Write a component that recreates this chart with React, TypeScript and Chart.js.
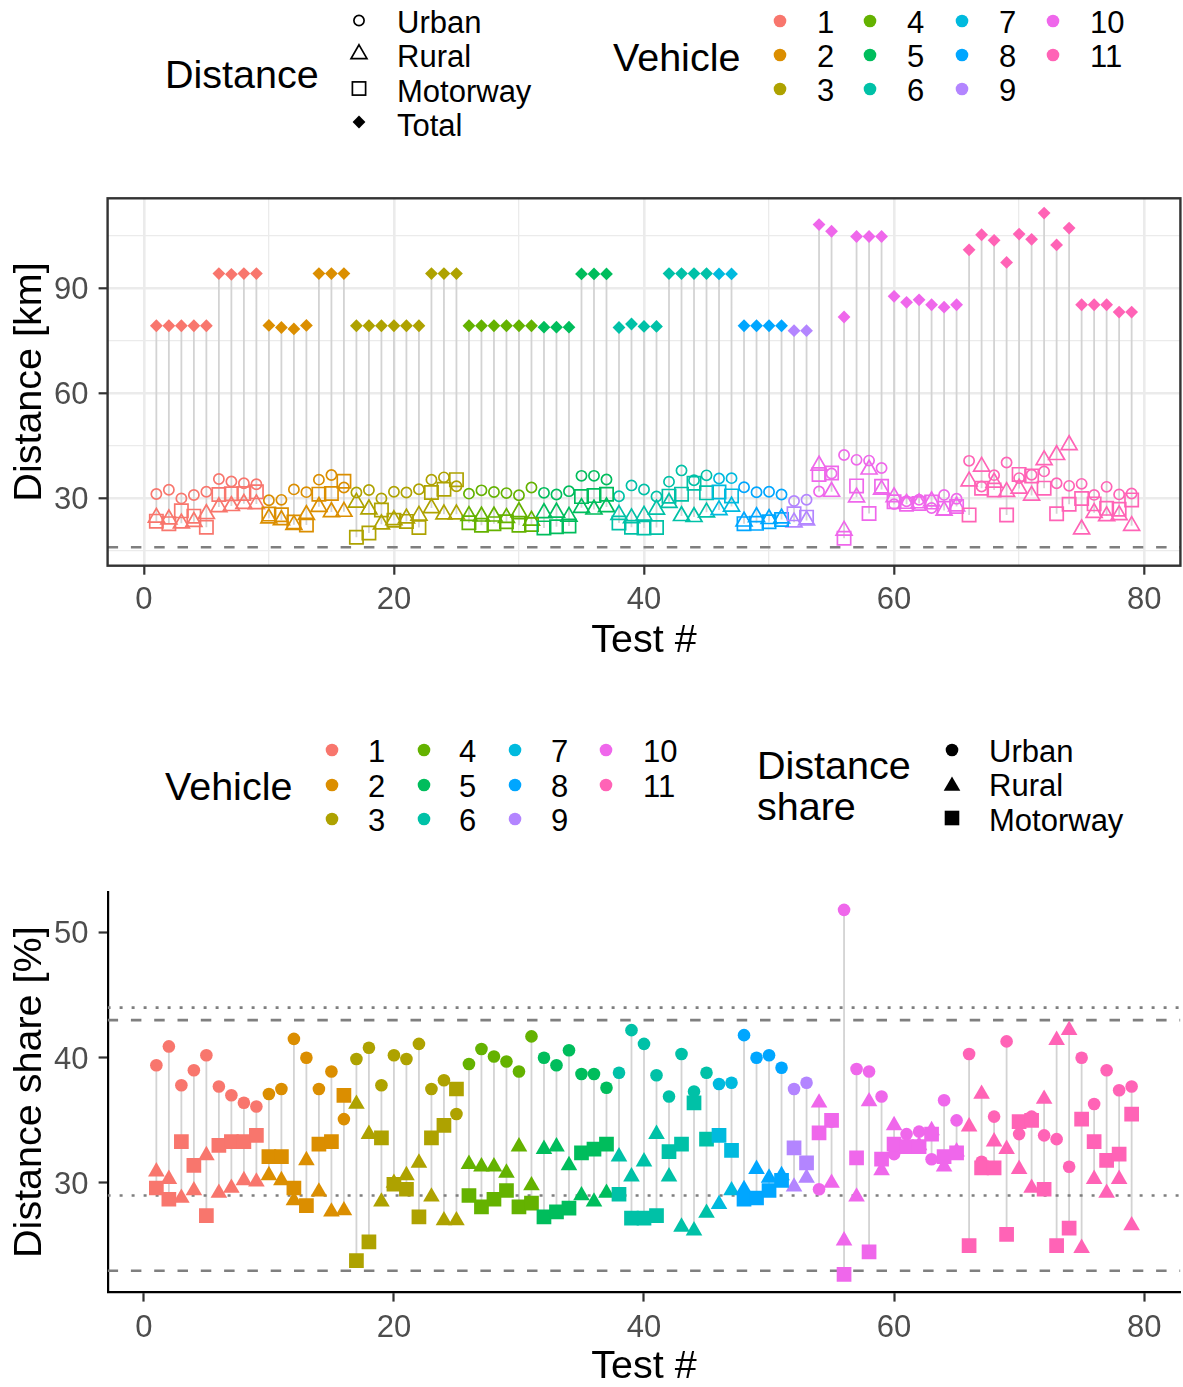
import React, { useEffect, useRef } from "react";
import { Chart, registerables } from "chart.js";

Chart.register(...registerables);

const FONT = '"Liberation Sans", Arial, Helvetica, sans-serif';

// ---------------- data ----------------
const testNumbers = [
  1, 2, 3, 4, 5, 6, 7, 8, 9, 10, 11, 12, 13, 14, 15, 16, 17, 18, 19, 20,
  21, 22, 23, 24, 25, 26, 27, 28, 29, 30, 31, 32, 33, 34, 35, 36, 37, 38, 39, 40,
  41, 42, 43, 44, 45, 46, 47, 48, 49, 50, 51, 52, 53, 54, 55, 56, 57, 58, 59, 60,
  61, 62, 63, 64, 65, 66, 67, 68, 69, 70, 71, 72, 73, 74, 75, 76, 77, 78, 79,
];

const vehicleOfTest = [
  1, 1, 1, 1, 1, 1, 1, 1, 1,
  2, 2, 2, 2, 2, 2, 2,
  3, 3, 3, 3, 3, 3, 3, 3, 3,
  4, 4, 4, 4, 4, 4,
  5, 5, 5, 5, 5, 5,
  6, 6, 6, 6, 6, 6, 6, 6,
  7, 7,
  8, 8, 8, 8,
  9, 9,
  10, 10, 10, 10, 10, 10, 10, 10, 10, 10, 10, 10,
  11, 11, 11, 11, 11, 11, 11, 11, 11, 11, 11, 11, 11, 11,
];

// total trip distance [km]
const totalKm = [
  79.3, 79.3, 79.3, 79.3, 79.3, 94.2, 94.0, 94.2, 94.2,
  79.4, 78.8, 78.4, 79.4, 94.2, 94.2, 94.2,
  79.3, 79.3, 79.3, 79.3, 79.3, 79.3, 94.2, 94.2, 94.2,
  79.3, 79.3, 79.3, 79.3, 79.3, 79.3,
  78.9, 78.9, 78.9, 94.1, 94.1, 94.1,
  78.8, 79.8, 79.1, 79.1, 94.2, 94.2, 94.2, 94.2,
  94.1, 94.1,
  79.3, 79.3, 79.3, 79.3,
  77.9, 77.9,
  108.2, 106.3, 81.8, 104.8, 104.8, 104.8, 87.7, 86.0, 86.7, 85.3, 84.6, 85.3,
  101.0, 105.3, 103.7, 97.4, 105.5, 104.0, 111.5, 102.4, 107.2, 85.3, 85.3, 85.3, 83.2, 83.2,
];

// distance shares [%]
const urbanShare = [
  39.4, 40.9, 37.8, 39.0, 40.2, 37.7, 37.0, 36.4, 36.1,
  37.1, 37.5, 41.5, 40.0, 37.5, 38.9, 35.1,
  39.9, 40.8, 37.8, 40.2, 39.9, 41.1, 37.5, 38.2, 35.5,
  39.5, 40.7, 40.1, 39.7, 38.9, 41.7,
  40.0, 39.4, 40.6, 38.7, 38.7, 37.6,
  38.8, 42.2, 41.1, 38.6, 36.9, 40.3, 37.3, 38.8,
  37.9, 38.0,
  41.8, 40.0, 40.2, 39.2,
  37.5, 38.0,
  29.5, 34.9, 51.8, 39.1, 38.9, 36.9, 32.3, 33.9, 34.1, 31.9, 36.6, 35.0,
  40.3, 31.7, 35.3, 41.3, 33.9, 35.3, 33.8, 33.5, 31.3, 40.0, 36.3, 39.0, 37.4, 37.7,
];

const ruralShare = [
  30.9, 30.3, 28.8, 29.4, 32.2, 29.2, 29.6, 30.2, 30.1,
  30.6, 30.2, 28.6, 31.8, 29.3, 27.7, 27.8,
  36.3, 33.9, 28.5, 30.0, 30.6, 31.6, 28.9, 27.0, 27.0,
  31.5, 31.3, 31.3, 30.8, 32.9, 29.8,
  32.7, 32.9, 31.4, 29.0, 28.5, 29.2,
  32.1, 30.5, 31.7, 33.9, 30.5, 26.5, 26.2, 27.6,
  28.3, 29.4,
  29.5, 31.1, 30.4, 30.6,
  29.7, 30.4,
  36.4, 30.0, 25.4, 28.9, 36.5, 31.0, 34.6, 33.1, 33.0, 34.2, 31.3, 32.5,
  34.5, 37.1, 33.3, 32.7, 31.1, 29.6, 36.7, 41.4, 42.2, 24.8, 30.3, 29.2, 30.3, 26.6,
];

const motorwayShare = [
  29.6, 28.7, 33.3, 31.4, 27.4, 33.0, 33.3, 33.3, 33.8,
  32.1, 32.1, 29.6, 28.2, 33.1, 33.3, 37.0,
  23.8, 25.3, 33.6, 29.9, 29.5, 27.3, 33.6, 34.6, 37.5,
  29.0, 28.1, 28.7, 29.4, 28.1, 28.4,
  27.3, 27.7, 28.0, 32.4, 32.7, 33.1,
  29.1, 27.2, 27.2, 27.4, 32.5, 33.1, 36.4, 33.5,
  33.8, 32.6,
  28.7, 28.8, 29.4, 30.2,
  32.8, 31.6,
  34.0, 35.0, 22.7, 32.0, 24.5, 31.9, 33.1, 32.9, 32.9, 33.9, 32.1, 32.4,
  25.0, 31.2, 31.2, 25.9, 34.9, 35.0, 29.5, 25.0, 26.4, 35.1, 33.3, 31.8, 32.3, 35.5,
];

const vehicleLabels = ["1", "2", "3", "4", "5", "6", "7", "8", "9", "10", "11"];
const vehicleColors = [
  "#F8766D", "#DB8E00", "#AEA200", "#64B200", "#00BD5C", "#00C1A7",
  "#00BADE", "#00A6FF", "#B385FF", "#EF67EB", "#FF63B6",
];
const distanceLabels = ["Urban", "Rural", "Motorway", "Total"];
const shareLabels = ["Urban", "Rural", "Motorway"];

const xGridValues = [0, 10, 20, 30, 40, 50, 60, 70, 80];
const xLabelValues = [0, 20, 40, 60, 80];
const kmGridValues = [15, 30, 45, 60, 75, 90, 105];
const kmLabelValues = [30, 60, 90];
const shareTickValues = [30, 40, 50];

const rdeMinKm = 16;
const urbanShareLimits = [29, 44];
const otherShareLimits = [23, 43];

// ---------------- derived ----------------
const X_MIN = -2.9;
const X_MAX = 82.9;
const pointColors = vehicleOfTest.map((v) => vehicleColors[v - 1]);
const toKm = (share: number[]) => totalKm.map((t, i) => (t * share[i]) / 100);
const urbanKm = toKm(urbanShare);
const ruralKm = toKm(ruralShare);
const motorwayKm = toKm(motorwayShare);

const pts = (ys: number[]) => testNumbers.map((x, i) => ({ x, y: ys[i] }));

function segments(lows: number[], highs: number[]) {
  const out: any[] = [];
  testNumbers.forEach((x, i) => {
    out.push({ x, y: lows[i] }, { x, y: highs[i] }, { x, y: null });
  });
  return out;
}

const tickFont = { family: FONT, size: 31, lineHeight: 1 };
const titleFont = { family: FONT, size: 39.5, lineHeight: 1 };

function hline(y: number, dash: number[], order: number) {
  return {
    type: "scatter",
    data: [
      { x: X_MIN, y },
      { x: X_MAX, y },
    ],
    showLine: true,
    borderColor: "#7F7F7F",
    borderWidth: 2.6,
    borderDash: dash,
    borderCapStyle: "butt",
    pointRadius: 0,
    order,
  };
}

const DASHED = [10.5, 12.8];
const DOTTED = [3, 9];

const panelBorder = {
  id: "panelBorder",
  afterDraw(chart: any) {
    const { ctx, chartArea: a } = chart;
    ctx.save();
    ctx.strokeStyle = "#333333";
    ctx.lineWidth = 2.4;
    ctx.strokeRect(a.left, a.top, a.right - a.left, a.bottom - a.top);
    ctx.restore();
  },
};

function noPad(s: any) {
  s.paddingTop = 0;
  s.paddingBottom = 0;
  s.paddingLeft = 0;
  s.paddingRight = 0;
}

function buildTopConfig(): any {
  const lows = testNumbers.map((_, i) => Math.min(urbanKm[i], ruralKm[i], motorwayKm[i], totalKm[i]));
  const highs = testNumbers.map((_, i) => Math.max(urbanKm[i], ruralKm[i], motorwayKm[i], totalKm[i]));
  const open = (label: string, style: string, r: number, ys: number[], order: number) => ({
    type: "scatter",
    label,
    data: pts(ys),
    pointStyle: style,
    pointRadius: r,
    pointBackgroundColor: "rgba(0,0,0,0)",
    pointBorderColor: pointColors,
    pointBorderWidth: 1.7,
    order,
  });
  return {
    type: "scatter",
    data: {
      datasets: [
        {
          type: "scatter",
          label: "Total",
          data: pts(totalKm),
          pointStyle: "rectRot",
          pointRadius: 6.4,
          pointBackgroundColor: pointColors,
          pointBorderWidth: 0,
          order: 0,
        },
        open("Motorway", "rect", 9.4, motorwayKm, 1),
        open("Rural", "triangle", 9.2, ruralKm, 2),
        open("Urban", "circle", 5.1, urbanKm, 3),
        hline(rdeMinKm, DASHED, 4),
        {
          type: "scatter",
          data: segments(lows, highs),
          showLine: true,
          spanGaps: false,
          borderColor: "#D3D3D3",
          borderWidth: 1.8,
          pointRadius: 0,
          order: 5,
        },
      ],
    },
    options: {
      responsive: false,
      maintainAspectRatio: false,
      animation: false,
      devicePixelRatio: 1,
      events: [],
      layout: { autoPadding: false, padding: { top: 8.3, right: 2.6, left: 0, bottom: 0 } },
      plugins: { legend: { display: false }, tooltip: { enabled: false } },
      scales: {
        x: {
          type: "linear",
          position: "bottom",
          min: X_MIN,
          max: X_MAX,
          afterBuildTicks: (s: any) => {
            s.ticks = xGridValues.map((v) => ({ value: v }));
          },
          afterFit: (s: any) => {
            s.height = 104.3;
            noPad(s);
          },
          border: { display: false },
          grid: {
            display: true,
            drawOnChartArea: true,
            drawTicks: true,
            tickLength: 9,
            color: "#EBEBEB",
            lineWidth: (c: any) => (xLabelValues.includes(c.tick?.value) ? 2.6 : 1.3),
            tickColor: "#333333",
            tickWidth: (c: any) => (xLabelValues.includes(c.tick?.value) ? 2.2 : 0),
          },
          ticks: {
            autoSkip: false,
            maxRotation: 0,
            minRotation: 0,
            padding: 10,
            color: "#4D4D4D",
            font: tickFont,
            callback: (v: any) => (xLabelValues.includes(Number(v)) ? String(v) : ""),
          },
          title: {
            display: true,
            text: "Test #",
            color: "#000000",
            font: titleFont,
            padding: { top: 0, bottom: 9.6 },
          },
        },
        y: {
          type: "linear",
          position: "left",
          min: 10.74,
          max: 115.71,
          afterBuildTicks: (s: any) => {
            s.ticks = kmGridValues.map((v) => ({ value: v }));
          },
          afterFit: (s: any) => {
            s.width = 107.6;
            noPad(s);
          },
          border: { display: false },
          grid: {
            display: true,
            drawOnChartArea: true,
            drawTicks: true,
            tickLength: 9,
            color: "#EBEBEB",
            lineWidth: (c: any) => (kmLabelValues.includes(c.tick?.value) ? 2.6 : 1.3),
            tickColor: "#333333",
            tickWidth: (c: any) => (kmLabelValues.includes(c.tick?.value) ? 2.2 : 0),
          },
          ticks: {
            autoSkip: false,
            padding: 10,
            labelOffset: 2.5,
            color: "#4D4D4D",
            font: tickFont,
            callback: (v: any) => (kmLabelValues.includes(Number(v)) ? String(v) : ""),
          },
          title: {
            display: true,
            text: "Distance [km]",
            color: "#000000",
            font: titleFont,
            padding: { top: 9.9, bottom: 0 },
          },
        },
      },
    },
    plugins: [panelBorder],
  };
}

function buildBottomConfig(): any {
  const lows = testNumbers.map((_, i) => Math.min(urbanShare[i], ruralShare[i], motorwayShare[i]));
  const highs = testNumbers.map((_, i) => Math.max(urbanShare[i], ruralShare[i], motorwayShare[i]));
  const filled = (label: string, style: string, r: number, ys: number[], order: number) => ({
    type: "scatter",
    label,
    data: pts(ys),
    pointStyle: style,
    pointRadius: r,
    pointBackgroundColor: pointColors,
    pointBorderColor: pointColors,
    pointBorderWidth: 0,
    order,
  });
  return {
    type: "scatter",
    data: {
      datasets: [
        filled("Motorway", "rect", 10.4, motorwayShare, 1),
        filled("Rural", "triangle", 9.6, ruralShare, 2),
        filled("Urban", "circle", 6.3, urbanShare, 3),
        hline(urbanShareLimits[0], DOTTED, 4),
        hline(urbanShareLimits[1], DOTTED, 4),
        hline(otherShareLimits[0], DASHED, 4),
        hline(otherShareLimits[1], DASHED, 4),
        {
          type: "scatter",
          data: segments(lows, highs),
          showLine: true,
          spanGaps: false,
          borderColor: "#D3D3D3",
          borderWidth: 1.8,
          pointRadius: 0,
          order: 5,
        },
      ],
    },
    options: {
      responsive: false,
      maintainAspectRatio: false,
      animation: false,
      devicePixelRatio: 1,
      events: [],
      layout: { autoPadding: false, padding: { top: 11.7, right: 2.6, left: 0, bottom: 0 } },
      plugins: { legend: { display: false }, tooltip: { enabled: false } },
      scales: {
        x: {
          type: "linear",
          position: "bottom",
          min: X_MIN,
          max: X_MAX,
          afterBuildTicks: (s: any) => {
            s.ticks = xLabelValues.map((v) => ({ value: v }));
          },
          afterFit: (s: any) => {
            s.height = 94.4;
            noPad(s);
          },
          border: { display: true, color: "#000000", width: 2.2 },
          grid: {
            display: true,
            drawOnChartArea: false,
            drawTicks: true,
            tickLength: 9,
            tickColor: "#333333",
            tickWidth: 2.2,
          },
          ticks: {
            autoSkip: false,
            maxRotation: 0,
            minRotation: 0,
            padding: 11.5,
            color: "#4D4D4D",
            font: tickFont,
          },
          title: {
            display: true,
            text: "Test #",
            color: "#000000",
            font: titleFont,
            padding: { top: 0, bottom: 0 },
          },
        },
        y: {
          type: "linear",
          position: "left",
          min: 21.25,
          max: 53.25,
          afterBuildTicks: (s: any) => {
            s.ticks = shareTickValues.map((v) => ({ value: v }));
          },
          afterFit: (s: any) => {
            s.width = 107.6;
            noPad(s);
          },
          border: { display: true, color: "#000000", width: 2.2 },
          grid: {
            display: true,
            drawOnChartArea: false,
            drawTicks: true,
            tickLength: 9,
            tickColor: "#333333",
            tickWidth: 2.2,
          },
          ticks: {
            autoSkip: false,
            padding: 10,
            labelOffset: 2.5,
            color: "#4D4D4D",
            font: tickFont,
          },
          title: {
            display: true,
            text: "Distance share [%]",
            color: "#000000",
            font: titleFont,
            padding: { top: 9.9, bottom: 0 },
          },
        },
      },
    },
  };
}

// ---------------- legend helpers ----------------
function Txt(props: { x: number; cy: number; size: number; children: React.ReactNode }) {
  const { x, cy, size, children } = props;
  return (
    <div
      style={{
        position: "absolute",
        left: x,
        top: cy - 0.49 * size,
        fontFamily: FONT,
        fontSize: size,
        lineHeight: `${size}px`,
        whiteSpace: "nowrap",
        color: "#000",
      }}
    >
      {children}
    </div>
  );
}

function tri(cx: number, cy: number, r: number) {
  const h = r * 0.8660254;
  return `${cx},${cy - r} ${cx + h},${cy + r / 2} ${cx - h},${cy + r / 2}`;
}

function VehicleLegend(props: { titleX: number; titleCy: number; labelX: number[]; rows: number[] }) {
  const { titleX, titleCy, labelX, rows } = props;
  return (
    <>
      <Txt x={titleX} cy={titleCy} size={39.5}>Vehicle</Txt>
      {vehicleLabels.map((lab, k) => (
        <Txt key={"l" + k} x={labelX[Math.floor(k / 3)]} cy={rows[k % 3] + 1} size={31}>
          {lab}
        </Txt>
      ))}
    </>
  );
}

export default function App() {
  const topRef = useRef<HTMLCanvasElement>(null);
  const botRef = useRef<HTMLCanvasElement>(null);

  useEffect(() => {
    const c1 = new Chart(topRef.current as HTMLCanvasElement, buildTopConfig());
    const c2 = new Chart(botRef.current as HTMLCanvasElement, buildBottomConfig());
    return () => {
      c1.destroy();
      c2.destroy();
    };
  }, []);

  const topDotX = [780, 870, 962, 1053];
  const topLabelX = [817, 907, 999, 1090];
  const topRows = [21, 55, 89];
  const botDotX = [332, 424, 515, 606];
  const botLabelX = [368, 459, 551, 643];
  const botRows = [750, 785, 819];

  return (
    <div
      style={{
        position: "absolute",
        left: 0,
        top: 0,
        width: 1183,
        height: 1387,
        background: "#ffffff",
        overflow: "hidden",
      }}
    >
      <canvas
        ref={topRef}
        width={1183}
        height={480}
        style={{ position: "absolute", left: 0, top: 190, width: 1183, height: 480, display: "block" }}
      />
      <canvas
        ref={botRef}
        width={1183}
        height={507}
        style={{ position: "absolute", left: 0, top: 880, width: 1183, height: 507, display: "block" }}
      />

      {/* top legends */}
      <Txt x={165} cy={74} size={39.5}>Distance</Txt>
      {distanceLabels.map((lab, k) => (
        <Txt key={"d" + k} x={397} cy={[22, 56.5, 91, 125.5][k]} size={31}>
          {lab}
        </Txt>
      ))}
      <VehicleLegend titleX={613} titleCy={57} labelX={topLabelX} rows={topRows} />

      {/* bottom legends */}
      <VehicleLegend titleX={165} titleCy={786} labelX={botLabelX} rows={botRows} />
      <Txt x={757} cy={765} size={39.5}>Distance</Txt>
      <Txt x={757} cy={806} size={39.5}>share</Txt>
      {shareLabels.map((lab, k) => (
        <Txt key={"s" + k} x={989} cy={[751, 785, 820][k]} size={31}>
          {lab}
        </Txt>
      ))}

      <svg
        width={1183}
        height={1387}
        style={{ position: "absolute", left: 0, top: 0, pointerEvents: "none" }}
      >
        {/* top distance keys (open) */}
        <circle cx={359} cy={20.5} r={5.1} fill="none" stroke="#000" strokeWidth={1.7} />
        <polygon points={tri(359, 54, 9.2)} fill="none" stroke="#000" strokeWidth={1.7} />
        <rect x={359 - 6.6} y={88.5 - 6.6} width={13.2} height={13.2} fill="none" stroke="#000" strokeWidth={1.7} />
        <polygon points={`359,${122 - 6.4} ${359 + 6.4},122 359,${122 + 6.4} ${359 - 6.4},122`} fill="#000" />
        {/* vehicle dots */}
        {vehicleColors.map((c, k) => (
          <circle key={"t" + k} cx={topDotX[Math.floor(k / 3)]} cy={topRows[k % 3]} r={6.3} fill={c} />
        ))}
        {vehicleColors.map((c, k) => (
          <circle key={"b" + k} cx={botDotX[Math.floor(k / 3)]} cy={botRows[k % 3]} r={6.3} fill={c} />
        ))}
        {/* bottom share keys (filled) */}
        <circle cx={952} cy={750} r={6.3} fill="#000" />
        <polygon points={tri(952, 786, 9.6)} fill="#000" />
        <rect x={952 - 7.3} y={818 - 7.3} width={14.6} height={14.6} fill="#000" />
      </svg>
    </div>
  );
}
